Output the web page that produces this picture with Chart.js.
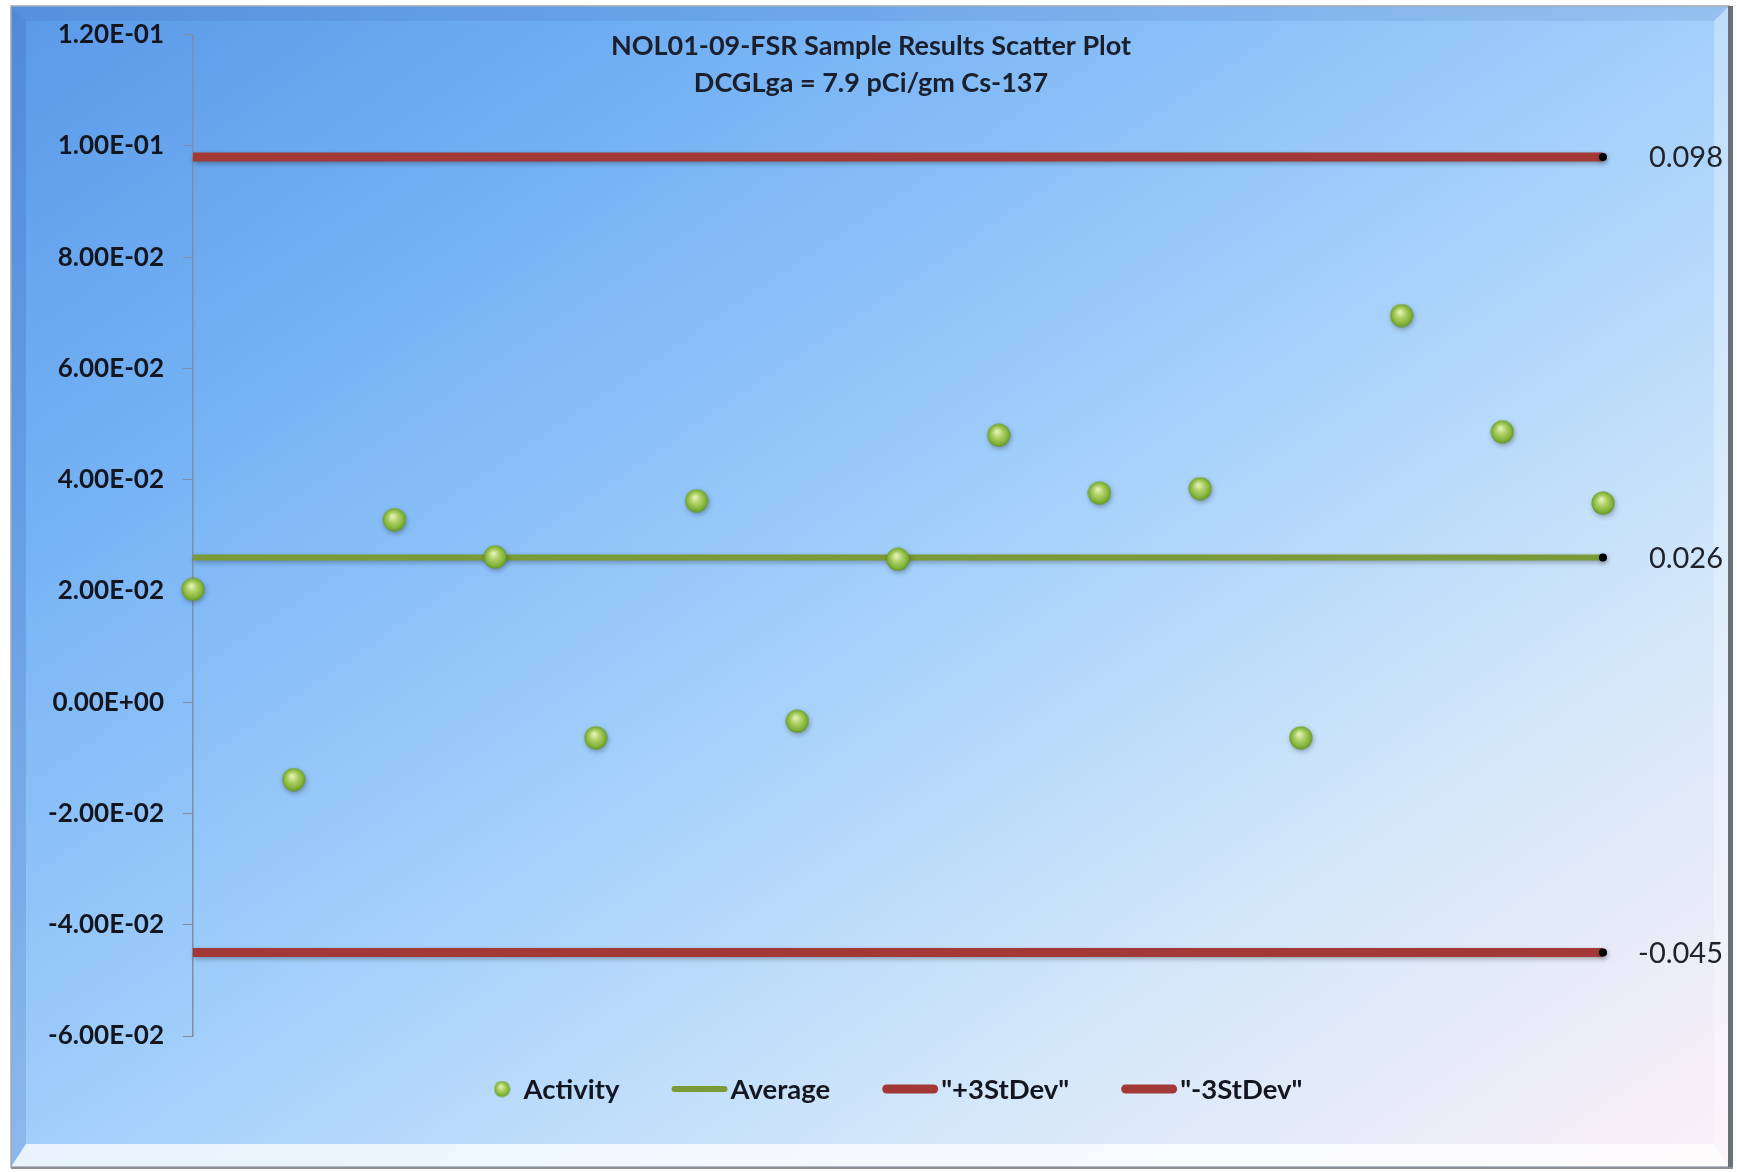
<!DOCTYPE html>
<html>
<head>
<meta charset="utf-8">
<title>NOL01-09-FSR Sample Results Scatter Plot</title>
<script src="https://cdn.jsdelivr.net/npm/chart.js@4.4.1/dist/chart.umd.min.js"></script>
<style>
  html, body { margin: 0; padding: 0; background: #ffffff; overflow: hidden; }
  #wrap { position: relative; width: 1737px; height: 1172px; }
</style>
</head>
<body>
<div id="wrap"><canvas id="chart"></canvas></div>
<script>
// ---- data ----
const titleLines = ['NOL01-09-FSR Sample Results Scatter Plot', 'DCGLga = 7.9 pCi/gm Cs-137'];
const sampleNumbers = [1, 2, 3, 4, 5, 6, 7, 8, 9, 10, 11, 12, 13, 14, 15];
const activity = [0.0203, -0.0139, 0.0328, 0.0261, -0.0064, 0.0362, -0.0034, 0.0257,
                  0.0480, 0.0376, 0.0384, -0.0064, 0.0695, 0.0486, 0.0358];
const averageValue = 0.026;
const plus3StDev = 0.098;
const minus3StDev = -0.045;
const yTicks = [-0.06, -0.04, -0.02, 0, 0.02, 0.04, 0.06, 0.08, 0.10, 0.12];
const seriesNames = ['Activity', 'Average', '"+3StDev"', '"-3StDev"'];

// ---- styling ----
const GREEN_LINE = '#7b9b38';
const RED_LINE = '#a23936';
const LEGEND_FONT = 'bold 27.5px Lato, "Open Sans", sans-serif';

// shaded green sphere used for the Activity markers
function makeSphere(d) {
  const c = document.createElement('canvas');
  c.width = d; c.height = d;
  const g = c.getContext('2d');
  const r = d / 2;
  const grad = g.createRadialGradient(r * 0.85, r * 0.7, r * 0.08, r, r, r);
  grad.addColorStop(0, '#e2f0b4');
  grad.addColorStop(0.35, '#b2d36a');
  grad.addColorStop(0.8, '#7fb235');
  grad.addColorStop(1, '#5d8f22');
  g.fillStyle = grad;
  g.beginPath();
  g.arc(r, r, r - 0.5, 0, Math.PI * 2);
  g.fill();
  return c;
}
const sphere = makeSphere(24);
const legendSphere = makeSphere(17);

function fmtExp(v) {
  if (Math.abs(v) < 1e-12) return '0.00E+00';
  const s = v.toExponential(2).toUpperCase();
  const m = s.match(/^(-?[\d.]+)E([+-])(\d+)$/);
  return m[1] + 'E' + m[2] + m[3].padStart(2, '0');
}

// framed background with a diagonal blue-to-pale gradient and bevelled edges
const framePlugin = {
  id: 'frame',
  beforeDraw(chart) {
    const ctx = chart.ctx;
    const W = chart.width, H = chart.height;
    const L = 11, T = 6, R = 1729, B = 1167;
    ctx.save();
    ctx.fillStyle = '#ffffff';
    ctx.fillRect(0, 0, W, H);

    ctx.save();
    ctx.translate(L, T);
    ctx.scale(R - L, B - T);
    const g = ctx.createLinearGradient(0, 0, 1, 1);
    g.addColorStop(0, '#5b98e7');
    g.addColorStop(0.22, '#73b1f4');
    g.addColorStop(0.5, '#a2cffb');
    g.addColorStop(0.75, '#d3e7fa');
    g.addColorStop(1, '#fcf0f7');
    ctx.fillStyle = g;
    ctx.fillRect(0, 0, 1, 1);
    ctx.restore();

    const bw = 15;
    const poly = (pts, fill) => {
      ctx.beginPath();
      ctx.moveTo(pts[0][0], pts[0][1]);
      for (let i = 1; i < pts.length; i++) ctx.lineTo(pts[i][0], pts[i][1]);
      ctx.closePath();
      ctx.fillStyle = fill;
      ctx.fill();
    };
    // top
    poly([[L, T], [R, T], [R - bw, T + bw], [L + bw, T + bw]], 'rgba(40,70,140,0.10)');
    // left
    poly([[L, T], [L + bw, T + bw], [L + bw, B - bw - 8], [L, B]], 'rgba(30,60,150,0.16)');
    // bottom
    poly([[L, B], [L + bw, B - bw - 8], [R - bw, B - bw - 8], [R, B]], 'rgba(255,255,255,0.75)');
    // right
    poly([[R, T], [R, B], [R - bw, B - bw - 8], [R - bw, T + bw]], 'rgba(255,255,255,0.30)');

    ctx.strokeStyle = '#a3a9b3';
    ctx.lineWidth = 1.5;
    ctx.strokeRect(L, T, R - L, B - T);
    ctx.fillStyle = '#6c7079';
    ctx.fillRect(R - 1, T, 5, B - T + 2);
    ctx.fillStyle = '#8a8f97';
    ctx.fillRect(L, B, R - L + 4, 2);
    ctx.restore();
  }
};

// soft drop shadow under lines and markers
const shadowPlugin = {
  id: 'softShadow',
  beforeDatasetDraw(chart) {
    const ctx = chart.ctx;
    ctx.save();
    ctx.shadowColor = 'rgba(0,0,0,0.30)';
    ctx.shadowBlur = 5;
    ctx.shadowOffsetX = 1;
    ctx.shadowOffsetY = 2;
  },
  afterDatasetDraw(chart) {
    chart.ctx.restore();
  }
};

// title, value labels at the end of the reference lines, and the legend row
const annotationPlugin = {
  id: 'annotations',
  afterDraw(chart) {
    const ctx = chart.ctx;
    const area = chart.chartArea;
    const xs = chart.scales.x, ys = chart.scales.y;
    ctx.save();

    // title
    ctx.fillStyle = '#1b1e2b';
    ctx.font = 'bold 27px Lato, "Open Sans", sans-serif';
    ctx.textAlign = 'center';
    ctx.textBaseline = 'middle';
    ctx.fillText(titleLines[0], 871, 46);
    ctx.fillText(titleLines[1], 871, 83);

    // value labels for the horizontal reference lines
    ctx.font = '29px Lato, "Open Sans", sans-serif';
    ctx.textAlign = 'right';
    ctx.fillStyle = '#20232c';
    [1, 2, 3].forEach(i => {
      const ds = chart.data.datasets[i];
      const last = ds.data[ds.data.length - 1];
      ctx.fillText(String(last.y), xs.getPixelForValue(last.x) + 120, ys.getPixelForValue(last.y) + 1);
    });

    // legend
    ctx.font = LEGEND_FONT;
    ctx.textAlign = 'left';
    ctx.fillStyle = '#14161f';
    const ly = 1089;
    const lineW = 56, gap = 52;
    const items = chart.data.datasets.map((ds, i) => {
      const markerW = i === 0 ? 17 : lineW;
      const textGap = i === 0 ? 13 : 3;
      return { ds, markerW, textGap, textW: ctx.measureText(seriesNames[i]).width };
    });
    const total = items.reduce((s, it) => s + it.markerW + it.textGap + it.textW, 0) + gap * (items.length - 1);
    let x = (area.left + area.right) / 2 - total / 2;
    items.forEach((it, i) => {
      if (i === 0) {
        ctx.drawImage(legendSphere, x, ly - 8.5);
      } else {
        const lw = i === 1 ? 6 : 9;
        ctx.strokeStyle = it.ds.borderColor;
        ctx.lineWidth = lw;
        ctx.lineCap = 'round';
        ctx.beginPath();
        ctx.moveTo(x + lw / 2, ly);
        ctx.lineTo(x + it.markerW - lw / 2, ly);
        ctx.stroke();
      }
      x += it.markerW + it.textGap;
      ctx.fillText(seriesNames[i], x, ly + 1);
      x += it.textW + gap;
    });
    ctx.restore();
  }
};

function hLine(value) {
  return [{ x: sampleNumbers[0], y: value }, { x: sampleNumbers[sampleNumbers.length - 1], y: value }];
}

function build() {
  const ctx = document.getElementById('chart').getContext('2d');
  new Chart(ctx, {
    type: 'scatter',
    data: {
      datasets: [
        {
          label: seriesNames[0],
          data: sampleNumbers.map((n, i) => ({ x: n, y: activity[i] })),
          showLine: false,
          pointStyle: sphere,
          pointRadius: 12,
          order: 0,
          clip: false
        },
        {
          label: seriesNames[1],
          data: hLine(averageValue),
          showLine: true,
          borderColor: GREEN_LINE,
          borderWidth: 6,
          pointRadius: [0, 4],
          pointBackgroundColor: '#000000',
          pointBorderWidth: 0,
          order: 1,
          clip: false
        },
        {
          label: seriesNames[2],
          data: hLine(plus3StDev),
          showLine: true,
          borderColor: RED_LINE,
          borderWidth: 9,
          pointRadius: [0, 4],
          pointBackgroundColor: '#000000',
          pointBorderWidth: 0,
          order: 2,
          clip: false
        },
        {
          label: seriesNames[3],
          data: hLine(minus3StDev),
          showLine: true,
          borderColor: RED_LINE,
          borderWidth: 9,
          pointRadius: [0, 4],
          pointBackgroundColor: '#000000',
          pointBorderWidth: 0,
          order: 3,
          clip: false
        }
      ]
    },
    options: {
      responsive: true,
      maintainAspectRatio: false,
      animation: false,
      events: [],
      layout: { padding: { top: 33, bottom: 136, left: 0, right: 134 } },
      plugins: {
        legend: { display: false },
        title: { display: false },
        tooltip: { enabled: false }
      },
      scales: {
        x: {
          type: 'linear',
          min: sampleNumbers[0],
          max: sampleNumbers[sampleNumbers.length - 1],
          display: false
        },
        y: {
          type: 'linear',
          min: yTicks[0],
          max: yTicks[yTicks.length - 1],
          afterBuildTicks(scale) {
            scale.ticks = yTicks.map(v => ({ value: v }));
          },
          afterFit(scale) {
            scale.width = 193;
          },
          ticks: {
            callback: v => fmtExp(v),
            font: { family: 'Lato, "Open Sans", sans-serif', size: 26, weight: 'bold' },
            color: '#14161f',
            padding: 19
          },
          grid: {
            drawOnChartArea: false,
            drawTicks: true,
            tickLength: 10,
            color: '#7f8ea3',
            lineWidth: 1
          },
          border: { display: true, color: '#7f8ea3', width: 1.5 }
        }
      }
    },
    plugins: [framePlugin, shadowPlugin, annotationPlugin]
  });
}

if (document.fonts && document.fonts.load) {
  Promise.all([
    document.fonts.load('bold 26px Lato'),
    document.fonts.load('29px Lato')
  ]).then(build, build);
} else {
  build();
}
</script>
</body>
</html>
